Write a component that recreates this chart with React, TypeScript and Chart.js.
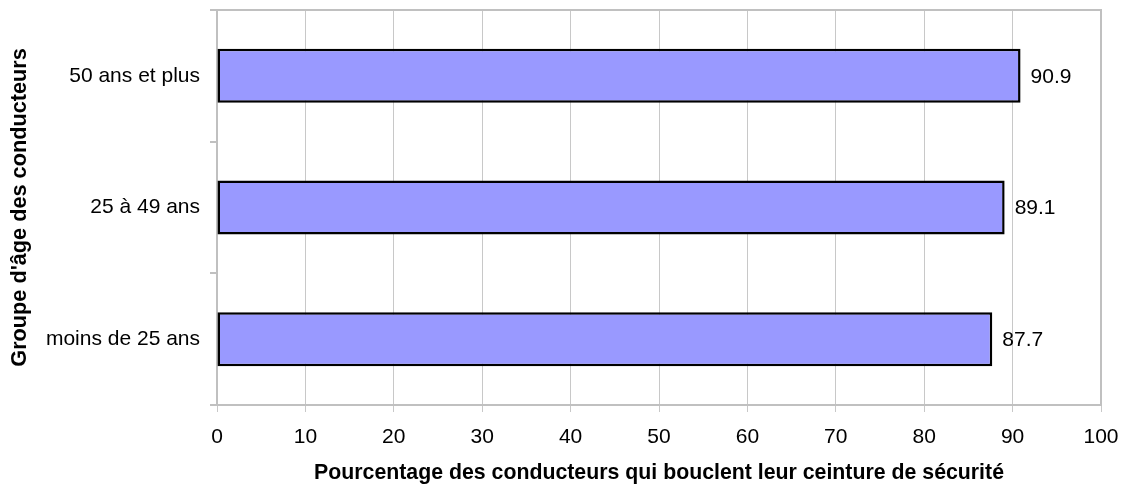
import React, { useEffect, useRef } from "react";
import { Chart, registerables } from "chart.js";

Chart.register(...registerables);

const categories = ["50 ans et plus", "25 à 49 ans", "moins de 25 ans"];
const values = [90.9, 89.1, 87.7];
const xTitle = "Pourcentage des conducteurs qui bouclent leur ceinture de sécurité";
const yTitle = "Groupe d'âge des conducteurs";

const FONT = "'Liberation Sans', Arial, sans-serif";

const boxPlugin = {
  id: "plotBox",
  beforeDatasetsDraw(chart: any) {
    const { ctx, chartArea } = chart;
    ctx.save();
    ctx.strokeStyle = "#c0c0c0";
    ctx.lineWidth = 2;
    ctx.strokeRect(chartArea.left, chartArea.top, chartArea.right - chartArea.left, chartArea.bottom - chartArea.top);
    ctx.restore();
  },
};

const labelPlugin = {
  id: "valueLabels",
  afterDatasetsDraw(chart: any) {
    const { ctx } = chart;
    const meta = chart.getDatasetMeta(0);
    ctx.save();
    ctx.fillStyle = "#000";
    ctx.font = `21px ${FONT}`;
    ctx.textAlign = "left";
    ctx.textBaseline = "middle";
    meta.data.forEach((el: any, i: number) => {
      ctx.fillText(String(values[i]), el.x + 10, el.y + 1);
    });
    ctx.restore();
  },
};

function zeroPad(scale: any) {
  scale.paddingTop = 0;
  scale.paddingBottom = 0;
  scale.paddingLeft = 0;
  scale.paddingRight = 0;
}

export default function App() {
  const ref = useRef<HTMLCanvasElement>(null);
  useEffect(() => {
    if (!ref.current) return;
    const chart = new Chart(ref.current, {
      type: "bar",
      data: {
        labels: categories,
        datasets: [
          {
            data: values,
            backgroundColor: "#9999ff",
            borderColor: "#000000",
            borderWidth: 2.5,
            borderSkipped: false,
            barPercentage: 0.41,
            categoryPercentage: 1,
          },
        ],
      },
      options: {
        indexAxis: "y",
        animation: false,
        responsive: false,
        maintainAspectRatio: false,
        layout: { padding: { left: 0, top: 10, right: 21, bottom: 0 } },
        plugins: { legend: { display: false }, tooltip: { enabled: false } },
        scales: {
          x: {
            min: 0,
            max: 100,
            ticks: { stepSize: 10, color: "#000", font: { family: FONT, size: 21 }, padding: 13 },
            grid: { color: "#c8c8c8", lineWidth: 1, tickLength: 7, drawTicks: true },
            border: { display: false },
            title: { display: true, text: xTitle, color: "#000", font: { family: FONT, size: 21.3, weight: "bold", lineHeight: 1.0 }, padding: { top: 0, bottom: 1 } },
            afterFit(scale: any) { scale.height = 80; zeroPad(scale); },
          },
          y: {
            ticks: { color: "#000", font: { family: FONT, size: 21 }, padding: 10 },
            grid: { display: true, drawOnChartArea: false, offset: true, color: "#c0c0c0", lineWidth: 2, tickLength: 7 },
            border: { display: false },
            title: { display: true, text: yTitle, color: "#000", font: { family: FONT, size: 21.7, weight: "bold" }, padding: { top: 7, bottom: 0 } },
            afterFit(scale: any) { scale.width = 217; zeroPad(scale); },
          },
        },
      },
      plugins: [boxPlugin, labelPlugin],
    });
    return () => chart.destroy();
  }, []);
  return (
    <div style={{ position: "absolute", left: 0, top: 0, width: 1122, height: 485, background: "#fff" }}>
      <canvas ref={ref} width={1122} height={485} style={{ width: 1122, height: 485 }} />
    </div>
  );
}
